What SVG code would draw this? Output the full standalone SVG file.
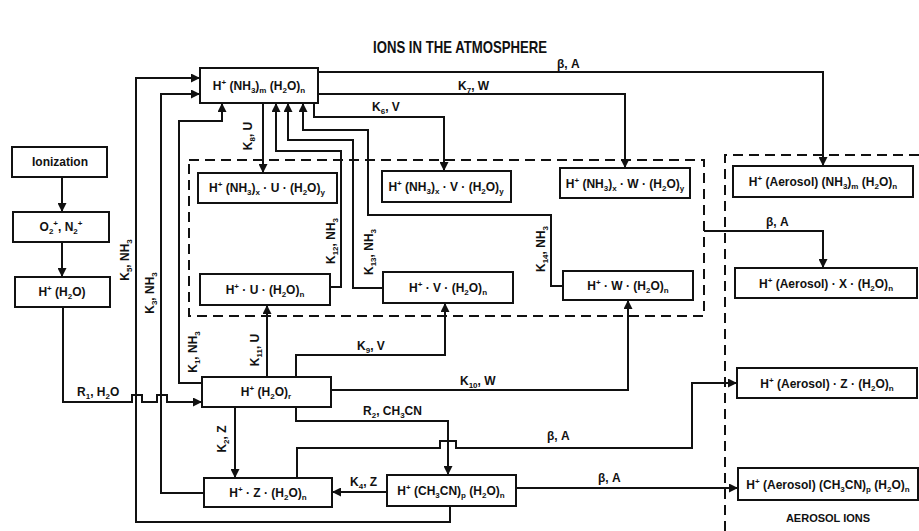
<svg xmlns="http://www.w3.org/2000/svg" width="919" height="531" viewBox="0 0 919 531">
<style>
.t{font-family:"Liberation Sans",Arial,sans-serif;font-weight:bold;font-size:12px;fill:#111}
.c{text-anchor:middle}
.s{font-size:8px}
.box{fill:#fff;stroke:#111;stroke-width:2}
.ln{fill:none;stroke:#111;stroke-width:2}
.dash{fill:none;stroke:#111;stroke-width:2;stroke-dasharray:10 6}
</style>
<defs>
<marker id="ah" markerUnits="userSpaceOnUse" markerWidth="10" markerHeight="9" refX="9" refY="4.5" orient="auto">
<path d="M0,0 L9,4.5 L0,9 z" fill="#111"/>
</marker>
</defs>
<rect width="919" height="531" fill="#fff"/>
<text class="t c" x="460" y="53" style="font-size:17px" textLength="174" lengthAdjust="spacingAndGlyphs">IONS IN THE ATMOSPHERE</text>

<g id="cluster-region">
<rect class="dash" x="189" y="160" width="515" height="156"/>
</g>
<g id="aerosol-region">
<path class="dash" d="M919,155 H725 V531"/>
<text class="t c" x="828" y="522" style="font-size:11px">AEROSOL IONS</text>
</g>

<g id="connectors">
<path class="ln" marker-end="url(#ah)" d="M62,177 V212"/>
<path class="ln" marker-end="url(#ah)" d="M62,242 V277"/>
<path class="ln" marker-end="url(#ah)" d="M63,307 V402 H132 V395 H142 V402 H157 V395 H167 V402 H202"/>
<path class="ln" marker-end="url(#ah)" d="M450,506 V522 H136 V78 H200"/>
<path class="ln" marker-end="url(#ah)" d="M204,493 H161 V94 H200"/>
<path class="ln" marker-end="url(#ah)" d="M202,383 H179 V121 H222 V103"/>
<path class="ln" marker-end="url(#ah)" d="M235,407 V478"/>
<path class="ln" marker-end="url(#ah)" d="M267,377 V305"/>
<path class="ln" marker-end="url(#ah)" d="M296,377 V355 H445 V303"/>
<path class="ln" marker-end="url(#ah)" d="M331,390 H628 V300"/>
<path class="ln" marker-end="url(#ah)" d="M296,407 V421 H448 V475"/>
<path class="ln" marker-end="url(#ah)" d="M387,492 H332"/>
<path class="ln" marker-end="url(#ah)" d="M297,478 V448 H440 V441 H456 V448 H692 V383 H737"/>
<path class="ln" marker-end="url(#ah)" d="M516,488 H738"/>
<path class="ln" marker-end="url(#ah)" d="M318,72 H823 V166"/>
<path class="ln" marker-end="url(#ah)" d="M318,94 H625 V168"/>
<path class="ln" marker-end="url(#ah)" d="M314,103 V117 H444 V171"/>
<path class="ln" marker-end="url(#ah)" d="M263,103 V173"/>
<path class="ln" marker-end="url(#ah)" d="M330,287 H341 V151 H276 V103"/>
<path class="ln" marker-end="url(#ah)" d="M383,288 H353 V140 H288 V103"/>
<path class="ln" marker-end="url(#ah)" d="M563,286 H551 V215 H368 V130 H303 V103"/>
<path class="ln" marker-end="url(#ah)" d="M704,231 H823 V268"/>

<text class="t" x="77" y="396">R<tspan class="s" dy="3">1</tspan><tspan dy="-3">, H</tspan><tspan class="s" dy="3">2</tspan><tspan dy="-3">O</tspan></text>
<text class="t c" transform="translate(129,260) rotate(-90)">K<tspan class="s" dy="3">5</tspan><tspan dy="-3">, NH</tspan><tspan class="s" dy="3">3</tspan></text>
<text class="t c" transform="translate(154,293) rotate(-90)">K<tspan class="s" dy="3">3</tspan><tspan dy="-3">, NH</tspan><tspan class="s" dy="3">3</tspan></text>
<text class="t c" transform="translate(197,352) rotate(-90)">K<tspan class="s" dy="3">1</tspan><tspan dy="-3">, NH</tspan><tspan class="s" dy="3">3</tspan></text>
<text class="t c" transform="translate(259,350) rotate(-90)">K<tspan class="s" dy="3">11</tspan><tspan dy="-3">, U</tspan></text>
<text class="t c" transform="translate(252,136) rotate(-90)">K<tspan class="s" dy="3">8</tspan><tspan dy="-3">, U</tspan></text>
<text class="t c" transform="translate(335,241) rotate(-90)">K<tspan class="s" dy="3">12</tspan><tspan dy="-3">, NH</tspan><tspan class="s" dy="3">3</tspan></text>
<text class="t c" transform="translate(373,252) rotate(-90)">K<tspan class="s" dy="3">13</tspan><tspan dy="-3">, NH</tspan><tspan class="s" dy="3">3</tspan></text>
<text class="t c" transform="translate(545,249) rotate(-90)">K<tspan class="s" dy="3">14</tspan><tspan dy="-3">, NH</tspan><tspan class="s" dy="3">3</tspan></text>
<text class="t c" transform="translate(226,439) rotate(-90)">K<tspan class="s" dy="3">2</tspan><tspan dy="-3">, Z</tspan></text>
<text class="t" x="357" y="350">K<tspan class="s" dy="3">9</tspan><tspan dy="-3">, V</tspan></text>
<text class="t" x="460" y="385">K<tspan class="s" dy="3">10</tspan><tspan dy="-3">, W</tspan></text>
<text class="t" x="363" y="415">R<tspan class="s" dy="3">2</tspan><tspan dy="-3">, CH</tspan><tspan class="s" dy="3">3</tspan><tspan dy="-3">CN</tspan></text>
<text class="t" x="547" y="440">β, A</text>
<text class="t" x="598" y="482">β, A</text>
<text class="t" x="350" y="486">K<tspan class="s" dy="3">4</tspan><tspan dy="-3">, Z</tspan></text>
<text class="t" x="372" y="111">K<tspan class="s" dy="3">6</tspan><tspan dy="-3">, V</tspan></text>
<text class="t" x="458" y="90">K<tspan class="s" dy="3">7</tspan><tspan dy="-3">, W</tspan></text>
<text class="t" x="557" y="68">β, A</text>
<text class="t" x="766" y="226">β, A</text>
</g>

<g id="n-ionization">
<rect class="box" x="12" y="147" width="95" height="30"/>
<text class="t c" x="60" y="166">Ionization</text>
</g>
<g id="n-o2-n2">
<rect class="box" x="13" y="212" width="96" height="30"/>
<text class="t c" x="61" y="231">O<tspan class="s" dy="3">2</tspan><tspan class="s" dy="-8">+</tspan><tspan dy="5">, N</tspan><tspan class="s" dy="3">2</tspan><tspan class="s" dy="-8">+</tspan></text>
</g>
<g id="n-h-h2o">
<rect class="box" x="15" y="277" width="95" height="30"/>
<text class="t c" x="62" y="296">H<tspan class="s" dy="-5">+</tspan><tspan dy="5"> (H</tspan><tspan class="s" dy="3">2</tspan><tspan dy="-3">O)</tspan></text>
</g>
<g id="n-nh3m-h2on">
<rect class="box" x="200" y="68" width="118" height="35"/>
<text class="t c" x="259" y="90">H<tspan class="s" dy="-5">+</tspan><tspan dy="5"> (NH</tspan><tspan class="s" dy="3">3</tspan><tspan dy="-3">)</tspan><tspan class="s" dy="3">m</tspan><tspan dy="-3"> (H</tspan><tspan class="s" dy="3">2</tspan><tspan dy="-3">O)</tspan><tspan class="s" dy="3">n</tspan></text>
</g>
<g id="n-nh3x-u">
<rect class="box" x="198" y="173" width="139" height="30"/>
<text class="t c" x="267" y="192">H<tspan class="s" dy="-5">+</tspan><tspan dy="5"> (NH</tspan><tspan class="s" dy="3">3</tspan><tspan dy="-3">)</tspan><tspan class="s" dy="3">x</tspan><tspan dy="-3"> · U · (H</tspan><tspan class="s" dy="3">2</tspan><tspan dy="-3">O)</tspan><tspan class="s" dy="3">y</tspan></text>
</g>
<g id="n-nh3x-v">
<rect class="box" x="382" y="171" width="129" height="31"/>
<text class="t c" x="446" y="191">H<tspan class="s" dy="-5">+</tspan><tspan dy="5"> (NH</tspan><tspan class="s" dy="3">3</tspan><tspan dy="-3">)</tspan><tspan class="s" dy="3">x</tspan><tspan dy="-3"> · V · (H</tspan><tspan class="s" dy="3">2</tspan><tspan dy="-3">O)</tspan><tspan class="s" dy="3">y</tspan></text>
</g>
<g id="n-nh3x-w">
<rect class="box" x="560" y="168" width="130" height="30"/>
<text class="t c" x="625" y="188">H<tspan class="s" dy="-5">+</tspan><tspan dy="5"> (NH</tspan><tspan class="s" dy="3">3</tspan><tspan dy="-3">)</tspan><tspan class="s" dy="3">x</tspan><tspan dy="-3"> · W · (H</tspan><tspan class="s" dy="3">2</tspan><tspan dy="-3">O)</tspan><tspan class="s" dy="3">y</tspan></text>
</g>
<g id="n-u">
<rect class="box" x="200" y="274" width="130" height="31"/>
<text class="t c" x="265" y="294">H<tspan class="s" dy="-5">+</tspan><tspan dy="5"> · U · (H</tspan><tspan class="s" dy="3">2</tspan><tspan dy="-3">O)</tspan><tspan class="s" dy="3">n</tspan></text>
</g>
<g id="n-v">
<rect class="box" x="383" y="272" width="130" height="31"/>
<text class="t c" x="448" y="292">H<tspan class="s" dy="-5">+</tspan><tspan dy="5"> · V · (H</tspan><tspan class="s" dy="3">2</tspan><tspan dy="-3">O)</tspan><tspan class="s" dy="3">n</tspan></text>
</g>
<g id="n-w">
<rect class="box" x="563" y="271" width="130" height="29"/>
<text class="t c" x="628" y="290">H<tspan class="s" dy="-5">+</tspan><tspan dy="5"> · W · (H</tspan><tspan class="s" dy="3">2</tspan><tspan dy="-3">O)</tspan><tspan class="s" dy="3">n</tspan></text>
</g>
<g id="n-h2or">
<rect class="box" x="202" y="377" width="129" height="30"/>
<text class="t c" x="266" y="396">H<tspan class="s" dy="-5">+</tspan><tspan dy="5"> (H</tspan><tspan class="s" dy="3">2</tspan><tspan dy="-3">O)</tspan><tspan class="s" dy="3">r</tspan></text>
</g>
<g id="n-z">
<rect class="box" x="204" y="478" width="128" height="29"/>
<text class="t c" x="268" y="497">H<tspan class="s" dy="-5">+</tspan><tspan dy="5"> · Z · (H</tspan><tspan class="s" dy="3">2</tspan><tspan dy="-3">O)</tspan><tspan class="s" dy="3">n</tspan></text>
</g>
<g id="n-ch3cn">
<rect class="box" x="387" y="475" width="129" height="31"/>
<text class="t c" x="451" y="495">H<tspan class="s" dy="-5">+</tspan><tspan dy="5"> (CH</tspan><tspan class="s" dy="3">3</tspan><tspan dy="-3">CN)</tspan><tspan class="s" dy="3">p</tspan><tspan dy="-3"> (H</tspan><tspan class="s" dy="3">2</tspan><tspan dy="-3">O)</tspan><tspan class="s" dy="3">n</tspan></text>
</g>
<g id="n-aerosol-nh3">
<rect class="box" x="733" y="166" width="180" height="31"/>
<text class="t c" x="823" y="186">H<tspan class="s" dy="-5">+</tspan><tspan dy="5"> (Aerosol) (NH</tspan><tspan class="s" dy="3">3</tspan><tspan dy="-3">)</tspan><tspan class="s" dy="3">m</tspan><tspan dy="-3"> (H</tspan><tspan class="s" dy="3">2</tspan><tspan dy="-3">O)</tspan><tspan class="s" dy="3">n</tspan></text>
</g>
<g id="n-aerosol-x">
<rect class="box" x="735" y="268" width="182" height="30"/>
<text class="t c" x="826" y="288">H<tspan class="s" dy="-5">+</tspan><tspan dy="5"> (Aerosol) · X · (H</tspan><tspan class="s" dy="3">2</tspan><tspan dy="-3">O)</tspan><tspan class="s" dy="3">n</tspan></text>
</g>
<g id="n-aerosol-z">
<rect class="box" x="737" y="368" width="180" height="30"/>
<text class="t c" x="827" y="388">H<tspan class="s" dy="-5">+</tspan><tspan dy="5"> (Aerosol) · Z · (H</tspan><tspan class="s" dy="3">2</tspan><tspan dy="-3">O)</tspan><tspan class="s" dy="3">n</tspan></text>
</g>
<g id="n-aerosol-ch3cn">
<rect class="box" x="738" y="468" width="180" height="32"/>
<text class="t c" x="828" y="489">H<tspan class="s" dy="-5">+</tspan><tspan dy="5"> (Aerosol) (CH</tspan><tspan class="s" dy="3">3</tspan><tspan dy="-3">CN)</tspan><tspan class="s" dy="3">p</tspan><tspan dy="-3"> (H</tspan><tspan class="s" dy="3">2</tspan><tspan dy="-3">O)</tspan><tspan class="s" dy="3">n</tspan></text>
</g>
</svg>
